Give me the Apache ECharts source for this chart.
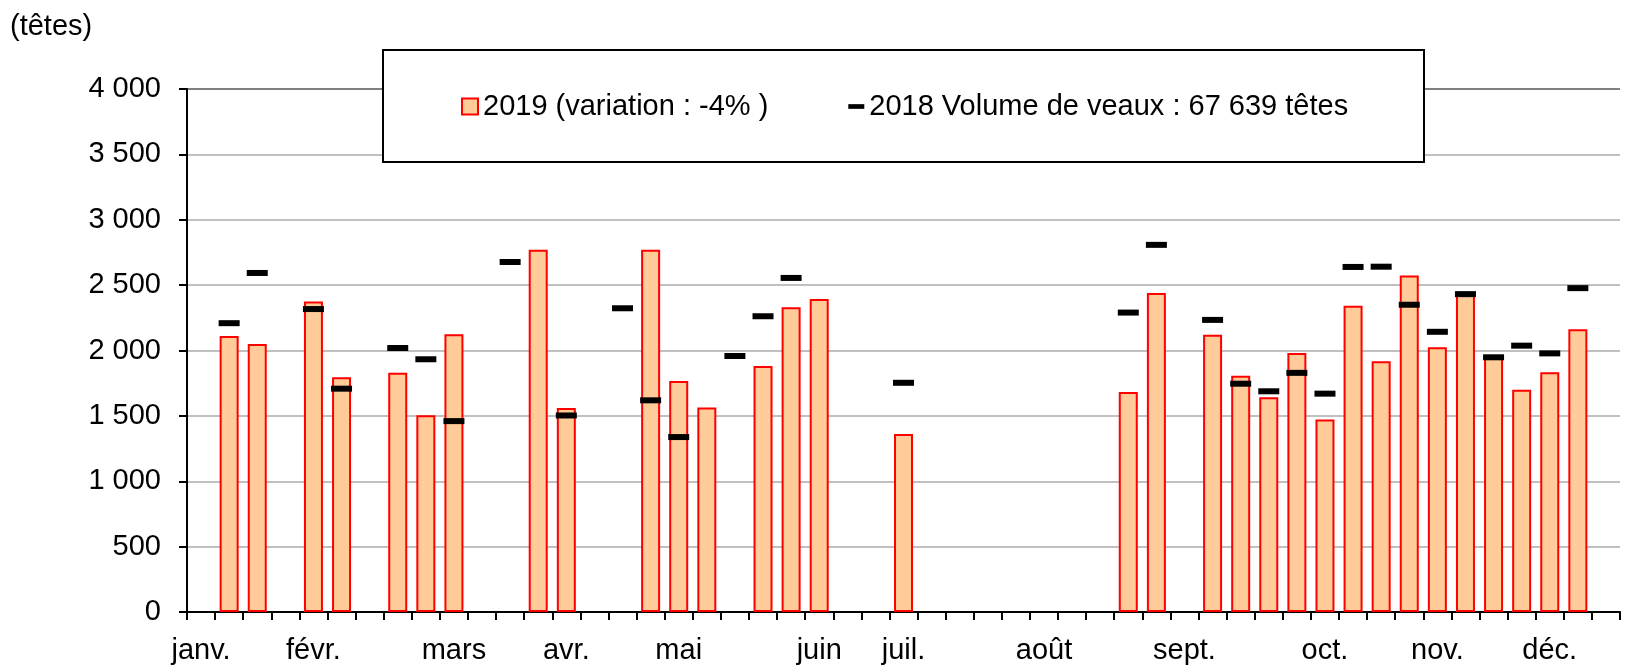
<!DOCTYPE html>
<html>
<head>
<meta charset="utf-8">
<script src="https://cdn.jsdelivr.net/npm/echarts@6/dist/echarts.min.js"></script>
<style>
  html, body { margin: 0; padding: 0; background: #fff; }
  #chart { width: 1635px; height: 665px; }
</style>
</head>
<body>
<div id="chart"></div>
<script>
// semaines (catégories de l'axe X)
var weeks = [
  '1', '2', '3', '4', '5', '6', '7', '8', '9', '10',
  '11', '12', '13', '14', '15', '16', '17', '18', '19', '20',
  '21', '22', '23', '24', '25', '26', '27', '28', '29', '30',
  '31', '32', '33', '34', '35', '36', '37', '38', '39', '40',
  '41', '42', '43', '44', '45', '46', '47', '48', '49', '50',
  '51'
]

// libellés affichés sous l'axe (un par semaine, vide sinon)
var monthLabels = [
  'janv.', '', '', '', 'févr.', '', '', '', '', 'mars',
  '', '', '', 'avr.', '', '', '', 'mai', '', '',
  '', '', 'juin', '', '', 'juil.', '', '', '', '',
  'août', '', '', '', '', 'sept.', '', '', '', '',
  'oct.', '', '', '', 'nov.', '', '', '', 'déc.', '',
  ''
]

// 2019 : barres
var vol2019 = [
  null, 2110, 2050, null, 2375, 1795, null, 1830, 1505, 2125,
  null, null, 2770, 1560, null, null, 2770, 1766, 1564, null,
  1882, 2330, 2393, null, null, 1361, null, null, null, null,
  null, null, null, 1682, 2439, null, 2120, 1806, 1642, 1981,
  1472, 2343, 1918, 2573, 2024, 2449, 1966, 1700, 1834, 2163,
  null
]

// 2018 : tirets noirs
var vol2018 = [
  null, 2209, 2593, null, 2317, 1708, null, 2019, 1933, 1460,
  null, 2677, null, 1503, null, 2323, 1619, 1338, null, 1958,
  2262, 2555, null, null, null, 1753, null, null, null, null,
  null, null, null, 2290, 2808, null, 2234, 1746, 1688, 1829,
  1670, 2639, 2641, 2350, 2143, 2431, 1948, 2037, 1978, 2477,
  null
]

var yTicks = { min: 0, max: 4000, interval: 500 }

var name2019 = '2019 (variation : -4% )'
var name2018 = '2018 Volume de veaux : 67 639 têtes'

var FONT = 'Liberation Sans, Arial, sans-serif'

var fmtThousands = function (v) {
  return String(v).replace(/\B(?=(\d{3})+(?!\d))/g, ' ')
}

var myChart = echarts.init(document.getElementById('chart'), null, { renderer: 'canvas' })

var option = {
  animation: false,
  backgroundColor: '#fff',
  textStyle: { fontFamily: FONT, color: '#000' },
  title: {
    text: '(têtes)',
    left: 10,
    top: 12,
    padding: 0,
    textStyle: { fontFamily: FONT, fontSize: 29, fontWeight: 'normal', color: '#000' }
  },
  graphic: [
    {
      type: 'rect',
      z: 50,
      shape: { x: 383, y: 50, width: 1041, height: 112 },
      style: { fill: '#fff', stroke: '#000', lineWidth: 2 }
    }
  ],
  legend: {
    z: 60,
    left: 461,
    top: 92,
    padding: 0,
    itemGap: 80,
    itemWidth: 16,
    itemHeight: 16,
    itemTextGap: 6,
    textStyle: { fontFamily: FONT, fontSize: 29, color: '#000' },
    data: [
      {
        name: name2019,
        icon: 'rect',
        itemStyle: { color: '#FFCC99', borderColor: '#FF0000', borderWidth: 2 }
      },
      {
        name: name2018,
        icon: 'path://M0,0 L17,0 L17,5 L0,5 Z',
        itemStyle: { color: '#000', borderWidth: 0, opacity: 1 }
      }
    ]
  },
  grid: {
    left: 187,
    right: 15,
    top: 89,
    bottom: 50
  },
  xAxis: {
    type: 'category',
    data: weeks,
    boundaryGap: true,
    axisLine: { lineStyle: { color: '#000', width: 2 } },
    axisTick: { show: true, interval: 0, length: 8, lineStyle: { color: '#000', width: 2 } },
    axisLabel: {
      interval: 0,
      margin: 24,
      fontFamily: FONT,
      fontSize: 29,
      color: '#000',
      formatter: function (value, idx) { return monthLabels[idx] }
    },
    splitLine: { show: false }
  },
  yAxis: {
    type: 'value',
    min: yTicks.min,
    max: yTicks.max,
    interval: yTicks.interval,
    axisLine: { show: true, lineStyle: { color: '#000', width: 2 } },
    axisTick: { show: true, length: 8, lineStyle: { color: '#000', width: 2 } },
    axisLabel: {
      margin: 26,
      fontFamily: FONT,
      fontSize: 29,
      color: '#000',
      formatter: fmtThousands
    },
    splitLine: {
      show: true,
      lineStyle: {
        width: 2,
        color: ['#c0c0c0', '#c0c0c0', '#c0c0c0', '#c0c0c0', '#c0c0c0', '#c0c0c0', '#c0c0c0', '#c0c0c0', '#808080']
      }
    }
  },
  series: [
    {
      name: name2019,
      type: 'bar',
      data: vol2019,
      barWidth: 19,
      z: 2,
      itemStyle: {
        color: '#FFCC99',
        borderColor: '#FF0000',
        borderWidth: 2
      }
    },
    {
      name: name2018,
      type: 'scatter',
      data: vol2018,
      symbol: 'rect',
      symbolSize: [21, 6],
      z: 3,
      itemStyle: { color: '#000', opacity: 1 }
    }
  ]
}

myChart.setOption(option)
</script>
</body>
</html>
